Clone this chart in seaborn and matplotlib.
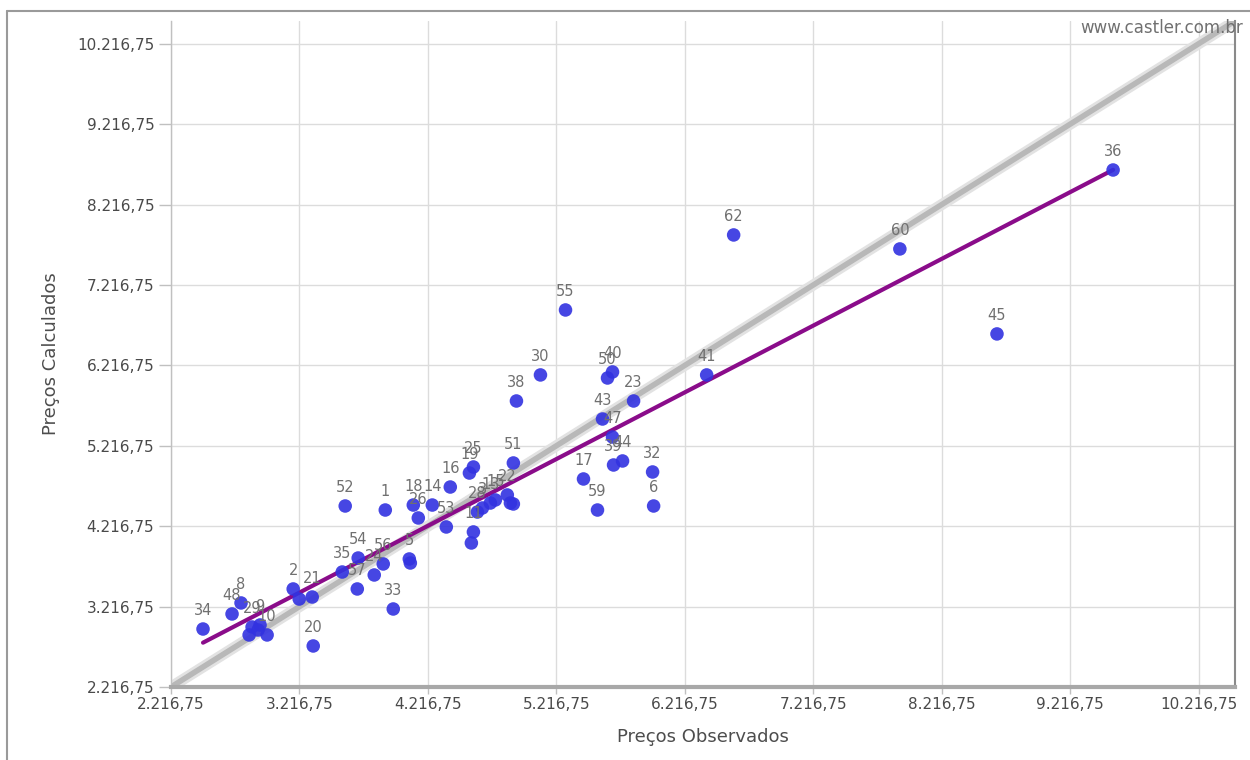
import numpy as np
import pandas as pd
import matplotlib
matplotlib.use("Agg")
import matplotlib.pyplot as plt
from matplotlib.ticker import FixedLocator, FuncFormatter
from matplotlib.lines import Line2D
import seaborn as sns

labels = ["36", "62", "60", "45", "55", "30", "38", "50", "40", "41",
          "23", "43", "47", "39", "44", "32", "17", "59", "6", "51",
          "25", "19", "16", "52", "1", "18", "14", "26", "53", "11",
          "", "3", "28", "13", "15", "22", "", "", "35", "54",
          "57", "24", "56", "33", "5", "", "2", "21", "", "20",
          "34", "48", "8", "9", "29", "10", "", ""]
observed = [9551, 6597, 7891, 8647, 5288, 5093, 4906, 5615, 5654, 6387,
            5818, 5576, 5654, 5662, 5732, 5966, 5428, 5537, 5974, 4882,
            4571, 4540, 4391, 3573, 3885, 4103, 4251, 4142, 4360, 4571,
            4555, 4641, 4602, 4703, 4742, 4835, 4859, 4882, 3550, 3674,
            3667, 3799, 3869, 3947, 4072, 4080, 3168, 3316, 3215, 3324,
            2466, 2692, 2762, 2910, 2848, 2965, 2825, 2895]
calculated = [8647, 7839, 7665, 6608, 6906, 6098, 5774, 6060, 6135, 6098,
              5774, 5550, 5326, 4978, 5028, 4891, 4804, 4418, 4468, 5003,
              4953, 4878, 4704, 4468, 4418, 4480, 4480, 4319, 4207, 4145,
              4008, 4443, 4393, 4505, 4543, 4605, 4505, 4493, 3647, 3821,
              3436, 3610, 3747, 3187, 3809, 3759, 3436, 3336, 3311, 2727,
              2938, 3125, 3262, 2988, 2963, 2864, 2864, 2926]

axis_min = 2216.75
axis_max = 10500
tick_values = [2216.75 + 1000 * k for k in range(9)]

df = pd.DataFrame({"obs": observed, "calc": calculated, "label": labels})


def br_format(v, pos=None):
    s = f"{v:,.2f}"
    return s.replace(",", "X").replace(".", ",").replace("X", ".")


sns.set_theme(style="whitegrid")
plt.rcParams["font.family"] = ["DejaVu Sans"]

fig = plt.figure(figsize=(12.5, 7.6), dpi=100)
ax = fig.add_axes([171 / 1250, 1 - 687 / 760, (1235 - 171) / 1250, (687 - 21) / 760])

# identity line (perfect fit)
ax.axline((axis_min, axis_min), slope=1, color="#e2e2e2", lw=8, zorder=2)
ax.axline((axis_min, axis_min), slope=1, color="#b8b8b8", lw=4, zorder=2)

# regression of calculated on observed
sns.regplot(data=df, x="obs", y="calc", scatter=False, ci=None, ax=ax,
            line_kws={"color": "#8a0c8a", "lw": 3, "zorder": 3})

sns.scatterplot(data=df, x="obs", y="calc", ax=ax, s=95, color="#3232e0",
                alpha=0.9, edgecolor="none", zorder=4)

for xv, yv, lab in zip(df["obs"], df["calc"], df["label"]):
    if lab:
        ax.annotate(lab, (xv, yv), xytext=(0, 8), textcoords="offset points",
                    ha="center", va="bottom", fontsize=10.5, color="#707070",
                    zorder=5)

ax.set_xlim(axis_min, axis_max)
ax.set_ylim(axis_min, axis_max)
ax.xaxis.set_major_locator(FixedLocator(tick_values))
ax.yaxis.set_major_locator(FixedLocator(tick_values))
ax.xaxis.set_major_formatter(FuncFormatter(br_format))
ax.yaxis.set_major_formatter(FuncFormatter(br_format))

ax.grid(True, color="#dcdcdc", lw=1)
ax.set_facecolor("white")
ax.tick_params(axis="both", left=True, bottom=True, labelsize=11,
               colors="#c0c0c0", width=1)
ax.tick_params(axis="x", length=5, pad=2)
ax.tick_params(axis="y", length=9, pad=3)
for t in ax.get_xticklabels() + ax.get_yticklabels():
    t.set_color("#4a4a4a")

ax.spines["top"].set_visible(False)
ax.spines["left"].set_color("#c0c0c0")
ax.spines["left"].set_linewidth(1)
ax.spines["bottom"].set_color("#a8a8a8")
ax.spines["bottom"].set_linewidth(3)
ax.spines["right"].set_color("#8a8a8a")
ax.spines["right"].set_linewidth(1.5)

ax.set_xlabel("Preços Observados", fontsize=13, color="#4d4d4d", labelpad=12)
ax.set_ylabel("Preços Calculados", fontsize=13, color="#4d4d4d", labelpad=12)

# watermark and screenshot frame
fig.text(1080 / 1250, 1 - 28 / 760, "www.castler.com.br", fontsize=12,
         color="#707070", ha="left", va="center")
fig.add_artist(Line2D([7 / 1250, 1], [1 - 11 / 760, 1 - 11 / 760],
                      transform=fig.transFigure, color="#9a9a9a", lw=1.5))
fig.add_artist(Line2D([7 / 1250, 7 / 1250], [0, 1 - 11 / 760],
                      transform=fig.transFigure, color="#9a9a9a", lw=1.5))

fig.savefig("out.png", dpi=100, facecolor="white")
